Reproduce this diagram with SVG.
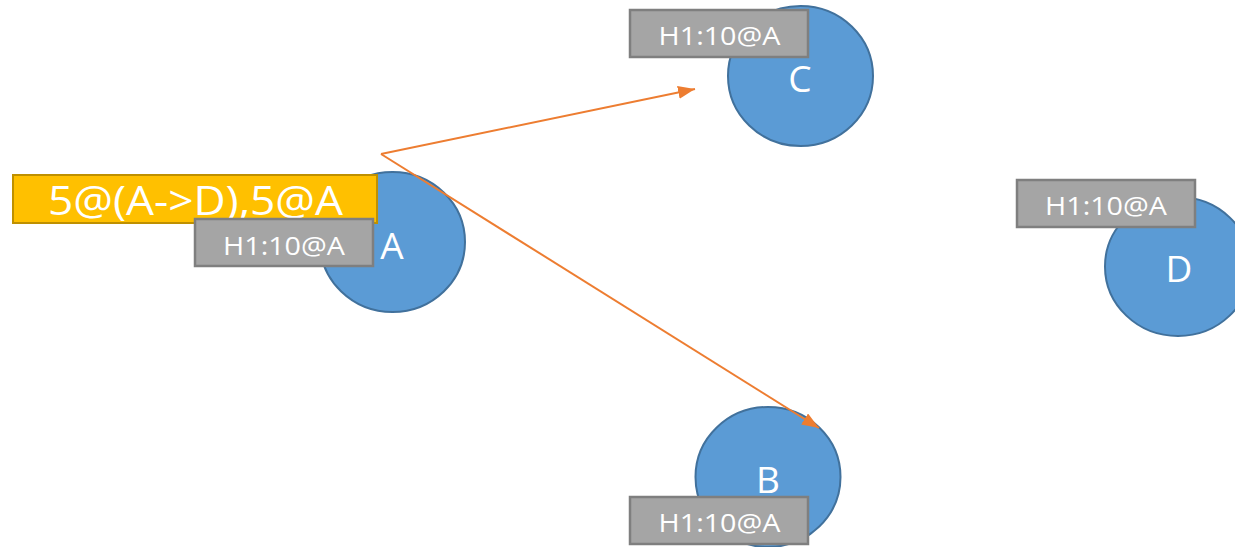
<svg xmlns="http://www.w3.org/2000/svg" width="1235" height="547" viewBox="0 0 1235 547">
  <defs>
    <marker id="arrow" markerUnits="userSpaceOnUse" markerWidth="17" markerHeight="13" refX="17" refY="6.5" orient="auto">
      <path d="M0,0 L17,6.5 L0,13 z" fill="#ed7d31"/>
    </marker>
    <style>
      .node { fill: #5b9bd5; stroke: #41719c; stroke-width: 2; }
      .letter { font-family: "Open Sans", "Liberation Sans", sans-serif; font-size: 37px; fill: #ffffff; text-anchor: middle; }
      .tag { fill: #a5a5a5; stroke: #7f7f7f; stroke-width: 2.5; }
      .tag-text { font-family: "Open Sans", "Liberation Sans", sans-serif; font-size: 25px; fill: #ffffff; text-anchor: middle; }
      .note { fill: #ffc000; stroke: #bf9000; stroke-width: 2; }
      .note-text { font-family: "Open Sans", "Liberation Sans", sans-serif; font-size: 41px; fill: #ffffff; text-anchor: middle; }
      .edge { fill: none; stroke: #ed7d31; stroke-width: 2; marker-end: url(#arrow); }
    </style>
  </defs>
  <rect width="1235" height="547" fill="#ffffff"/>

  <g id="node-A">
    <ellipse class="node" cx="392.5" cy="242" rx="72.5" ry="70"/>
    <text class="letter" x="392" y="259">A</text>
  </g>

  <g id="node-C">
    <ellipse class="node" cx="800.5" cy="76" rx="72.5" ry="70"/>
    <text class="letter" x="800" y="92">C</text>
  </g>

  <g id="node-B">
    <ellipse class="node" cx="768" cy="477" rx="72.5" ry="70"/>
    <text class="letter" x="768" y="493">B</text>
  </g>

  <g id="node-D">
    <ellipse class="node" cx="1178" cy="266.5" rx="73" ry="69.5"/>
    <text class="letter" x="1179" y="282">D</text>
  </g>

  <g id="connectors">
    <path class="edge" d="M381,154 L695,89"/>
    <path class="edge" d="M381,154 L819,428"/>
  </g>

  <g id="note-A">
    <rect class="note" x="13" y="175" width="364" height="48"/>
    <text class="note-text" x="195.5" y="215" textLength="295" lengthAdjust="spacingAndGlyphs">5@(A-&gt;D),5@A</text>
  </g>

  <g id="tag-A">
    <rect class="tag" x="195" y="219" width="178" height="47"/>
    <text class="tag-text" x="284" y="255" textLength="122" lengthAdjust="spacingAndGlyphs">H1:10@A</text>
  </g>

  <g id="tag-C">
    <rect class="tag" x="630" y="10" width="178" height="47"/>
    <text class="tag-text" x="719.5" y="45" textLength="122" lengthAdjust="spacingAndGlyphs">H1:10@A</text>
  </g>

  <g id="tag-B">
    <rect class="tag" x="630" y="497" width="178" height="47"/>
    <text class="tag-text" x="719.5" y="532" textLength="122" lengthAdjust="spacingAndGlyphs">H1:10@A</text>
  </g>

  <g id="tag-D">
    <rect class="tag" x="1017" y="180" width="178" height="47"/>
    <text class="tag-text" x="1106" y="215" textLength="122" lengthAdjust="spacingAndGlyphs">H1:10@A</text>
  </g>
</svg>
